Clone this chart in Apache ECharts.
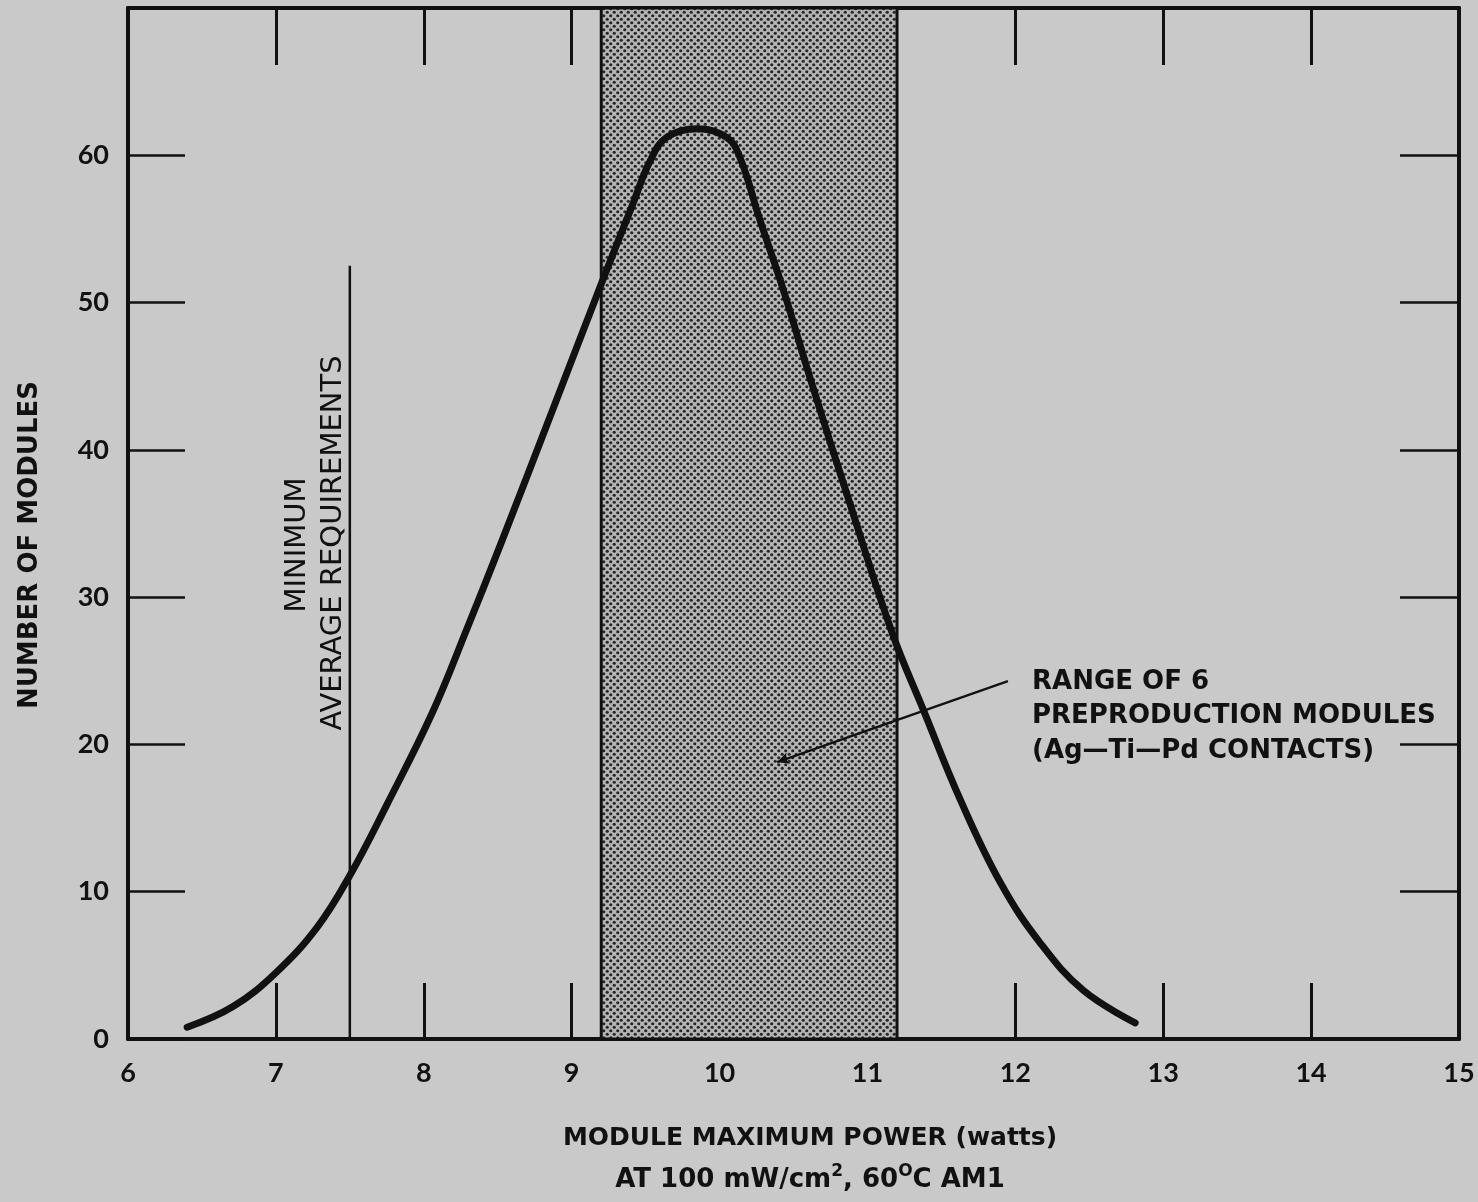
<!DOCTYPE html>
<html>
<head>
<meta charset="utf-8">
<script src="https://cdn.jsdelivr.net/npm/echarts@6/dist/echarts.min.js"></script>
<style>
html,body{margin:0;padding:0;background:#c9c9c9;}
#chart{width:1478px;height:1202px;}
</style>
</head>
<body>
<div id="chart"></div>
<script>
// ---- data ----
const xTickValues = [6, 7, 8, 9, 10, 11, 12, 13, 14, 15];
const yTickValues = [0, 10, 20, 30, 40, 50, 60];
const curveX = [6.40, 6.71, 7.00, 7.28, 7.50, 7.75, 8.06, 8.29, 8.52, 8.89, 9.19, 9.41, 9.53, 9.64, 9.85, 10.05, 10.14, 10.27, 10.43, 10.63, 10.88, 11.17, 11.38, 11.63, 11.90, 12.17, 12.46, 12.81];
const curveY = [0.8, 2.2, 4.5, 7.6, 11.1, 15.9, 22.2, 27.8, 33.6, 43.2, 51.0, 56.6, 59.6, 61.2, 61.8, 61.2, 59.8, 55.7, 50.9, 44.3, 36.4, 27.5, 22.3, 16.2, 10.6, 6.5, 3.3, 1.1];
const minReqX = [7.5, 7.5];
const minReqY = [0, 52.5];
const rangeBand = [9.2, 11.2];
const arrowFrom = [11.95, 24.3];
const arrowTo = [10.39, 18.8];
const annotationLines = ['RANGE OF 6', 'PREPRODUCTION MODULES', '(Ag\u2014Ti\u2014Pd CONTACTS)'];

// ---- pattern ----
const tile = document.createElement('canvas');
tile.width = 7; tile.height = 7;
(function(){
  const c = tile.getContext('2d');
  c.fillStyle = '#b4b4b4';
  c.fillRect(0,0,7,7);
  c.fillStyle = '#262626';
  [[1.75,1.75],[5.25,5.25]].forEach(function(p){
    c.beginPath(); c.arc(p[0], p[1], 1.6, 0, Math.PI*2); c.fill();
  });
})();

const chart = echarts.init(document.getElementById('chart'), null, {renderer:'canvas'});
const tickFont = {fontFamily:'Lato', fontWeight:'bold', fontSize:27, color:'#111'};
const axisLineStyle = {color:'#111', width:4};
const boldSans = {fontFamily:'DejaVu Sans', fontWeight:'bold', fill:'#111'};

const option = {
  backgroundColor:'#c9c9c9',
  animation:false,
  grid:{left:128, right:19, top:8, bottom:163},
  xAxis:[
    {type:'value', min:6, max:15, interval:1, position:'bottom',
     axisLine:{show:true, onZero:false, lineStyle:axisLineStyle},
     axisTick:{show:true, inside:true, length:56, lineStyle:{color:'#111', width:3}},
     axisLabel:{show:true, margin:21, ...tickFont,
       formatter:function(v){ return xTickValues.indexOf(v) >= 0 ? String(v) : ''; }},
     splitLine:{show:false}},
    {type:'value', min:6, max:15, interval:1, position:'top',
     axisLine:{show:true, onZero:false, lineStyle:axisLineStyle},
     axisTick:{show:true, inside:true, length:57, lineStyle:{color:'#111', width:3}},
     axisLabel:{show:false}, splitLine:{show:false}}
  ],
  yAxis:[
    {type:'value', min:0, max:70, interval:10, position:'left',
     axisLine:{show:true, onZero:false, lineStyle:axisLineStyle},
     axisTick:{show:true, inside:true, length:57, lineStyle:{color:'#111', width:2.5}},
     axisLabel:{show:true, margin:19, ...tickFont,
       formatter:function(v){ return yTickValues.indexOf(v) >= 0 ? String(v) : ''; }},
     splitLine:{show:false}},
    {type:'value', min:0, max:70, interval:10, position:'right',
     axisLine:{show:true, onZero:false, lineStyle:axisLineStyle},
     axisTick:{show:true, inside:true, length:59, lineStyle:{color:'#111', width:2.5}},
     axisLabel:{show:false}, splitLine:{show:false}}
  ],
  series:[
    {type:'line', data:[], xAxisIndex:0, yAxisIndex:0, silent:true,
     markArea:{silent:true,
       itemStyle:{color:{image:tile, repeat:'repeat'}, borderColor:'#111', borderWidth:3},
       data:[[{xAxis:rangeBand[0], yAxis:0},{xAxis:rangeBand[1], yAxis:70}]]},
     markLine:{silent:true, symbol:['none','arrow'], symbolSize:[9,12],
       label:{show:false},
       lineStyle:{color:'#111', width:2.2, type:'solid'},
       data:[[{coord:arrowFrom},{coord:arrowTo}]]}
    },
    {type:'line', data:minReqX.map(function(x,i){return [x, minReqY[i]];}),
     showSymbol:false, silent:true, lineStyle:{color:'#111', width:2.5}},
    {type:'line', data:curveX.map(function(x,i){return [x, curveY[i]];}),
     showSymbol:false, silent:true, smooth:0.4,
     lineStyle:{color:'#111', width:7, cap:'round', join:'round'}}
  ],
  graphic:[
    {type:'text', silent:true, x:810, y:1138,
     style:{text:'MODULE MAXIMUM POWER (watts)', align:'center', verticalAlign:'middle',
       ...boldSans, fontSize:25}},
    {type:'text', silent:true, x:810, y:1180,
     style:{text:'{n|AT 100 mW/cm}{s|2}{n|, 60}{s|O}{n|C AM1}', align:'center', verticalAlign:'middle',
       rich:{n:{fontFamily:'DejaVu Sans', fontWeight:'bold', fontSize:26, fill:'#111', color:'#111'},
             s:{fontFamily:'DejaVu Sans', fontWeight:'bold', fontSize:17, fill:'#111', color:'#111', verticalAlign:'top', padding:[0,0,16,0]}}}},
    {type:'text', silent:true, x:30, y:545, rotation:Math.PI/2,
     style:{text:'NUMBER OF MODULES', align:'center', verticalAlign:'middle',
       ...boldSans, fontSize:26}},
    {type:'text', silent:true, x:297, y:545, rotation:Math.PI/2,
     style:{text:'MINIMUM', align:'center', verticalAlign:'middle',
       fontFamily:'DejaVu Sans', fontSize:29, fill:'#111'}},
    {type:'text', silent:true, x:333, y:543, rotation:Math.PI/2,
     style:{text:'AVERAGE REQUIREMENTS', align:'center', verticalAlign:'middle',
       fontFamily:'DejaVu Sans', fontSize:29, fill:'#111'}},
    {type:'text', silent:true, x:1032, y:682,
     style:{text:annotationLines[0], align:'left', verticalAlign:'middle', ...boldSans, fontSize:26}},
    {type:'text', silent:true, x:1032, y:716,
     style:{text:annotationLines[1], align:'left', verticalAlign:'middle', ...boldSans, fontSize:26}},
    {type:'text', silent:true, x:1032, y:751,
     style:{text:annotationLines[2], align:'left', verticalAlign:'middle', ...boldSans, fontSize:26}}
  ]
};
chart.setOption(option);
</script>
</body>
</html>
